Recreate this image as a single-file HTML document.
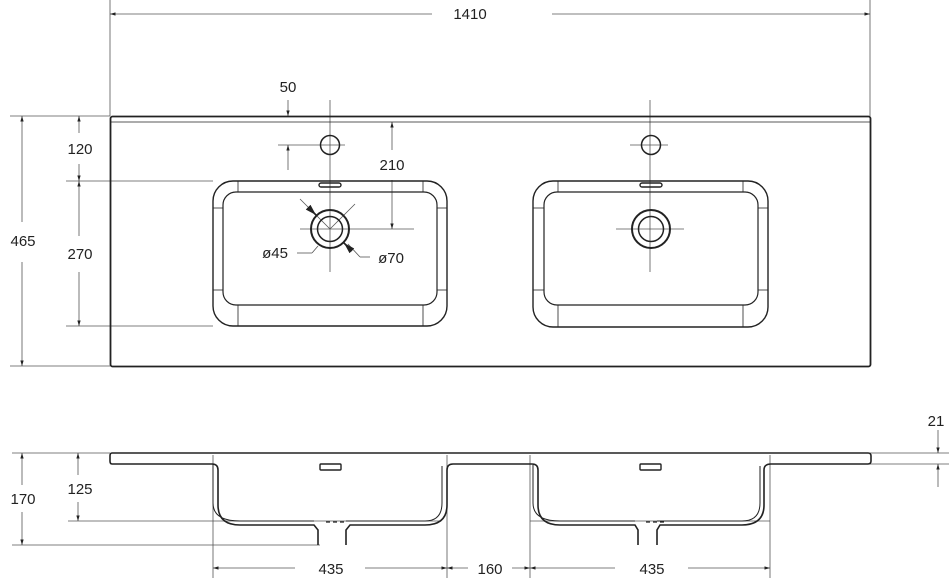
<!DOCTYPE html>
<html><head><meta charset="utf-8"><style>
html,body{margin:0;padding:0;background:#fff}
svg{display:block}
text{font-family:"Liberation Sans",sans-serif;font-size:15px;fill:#222;text-anchor:middle}
</style></head><body>
<svg width="949" height="579" viewBox="0 0 949 579" xmlns="http://www.w3.org/2000/svg">
<defs>
<marker id="a" viewBox="0 0 10 10" refX="10" refY="5" markerWidth="7" markerHeight="7" orient="auto-start-reverse"><path d="M0,2 L10,5 L0,8 z" fill="#222"/></marker>
</defs>
<g stroke="#555" stroke-width="0.8" fill="none">
<line x1="110" y1="0" x2="110" y2="116"/><line x1="870" y1="0" x2="870" y2="116"/>
<line x1="110" y1="14" x2="432" y2="14" marker-start="url(#a)"/><line x1="552" y1="14" x2="870" y2="14" marker-end="url(#a)"/>
<line x1="10" y1="116" x2="110" y2="116"/><line x1="10" y1="366" x2="110" y2="366"/>
<line x1="22" y1="116" x2="22" y2="222" marker-start="url(#a)"/><line x1="22" y1="262" x2="22" y2="366" marker-end="url(#a)"/>
<line x1="66" y1="181" x2="213" y2="181"/><line x1="66" y1="326" x2="213" y2="326"/>
<line x1="79" y1="116" x2="79" y2="133" marker-start="url(#a)"/><line x1="79" y1="164" x2="79" y2="181" marker-end="url(#a)"/>
<line x1="79" y1="181" x2="79" y2="236" marker-start="url(#a)"/><line x1="79" y1="272" x2="79" y2="326" marker-end="url(#a)"/>
<line x1="288" y1="100" x2="288" y2="116" marker-end="url(#a)"/><line x1="288" y1="170" x2="288" y2="145" marker-end="url(#a)"/>
<line x1="278" y1="145" x2="345" y2="145"/>
<line x1="330" y1="100" x2="330" y2="272"/><line x1="300" y1="229" x2="414" y2="229"/>
<line x1="392" y1="122" x2="392" y2="150" marker-start="url(#a)"/><line x1="392" y1="180" x2="392" y2="229" marker-end="url(#a)"/>
<line x1="650" y1="100" x2="650" y2="272"/><line x1="630" y1="145" x2="668" y2="145"/><line x1="616" y1="229" x2="684" y2="229"/>
<line x1="300" y1="199" x2="330" y2="229"/><line x1="330" y1="229" x2="355" y2="204"/>
<line x1="297" y1="253" x2="312" y2="253"/><line x1="312" y1="253" x2="318" y2="246"/>
<line x1="348" y1="244" x2="360" y2="257"/><line x1="360" y1="257" x2="370" y2="257"/>
</g>
<g stroke="#222" stroke-width="1.6" fill="none">
<line x1="310" y1="209" x2="316" y2="215" marker-end="url(#a)"/>
<line x1="352" y1="251" x2="344" y2="243" marker-end="url(#a)"/>
</g>
<g stroke="#222" fill="none">
<rect x="110.5" y="116.5" width="760" height="250" rx="2" stroke-width="1.8"/>
<line x1="111" y1="122" x2="870" y2="122" stroke-width="0.8"/>
<rect x="213" y="181" width="234" height="145" rx="20" stroke-width="1.4"/>
<rect x="223" y="192" width="214" height="113" rx="13" stroke-width="1.2"/>
<g stroke-width="0.8"><line x1="238" y1="181" x2="238" y2="192"/><line x1="423" y1="181" x2="423" y2="192"/><line x1="238" y1="305" x2="238" y2="326"/><line x1="423" y1="305" x2="423" y2="326"/><line x1="213" y1="208" x2="223" y2="208"/><line x1="437" y1="208" x2="447" y2="208"/><line x1="213" y1="290" x2="223" y2="290"/><line x1="437" y1="290" x2="447" y2="290"/></g>
<circle cx="330" cy="145" r="9.5" stroke-width="1.5"/>
<circle cx="330" cy="229" r="19" stroke-width="2"/><circle cx="330" cy="229" r="12.5" stroke-width="1.5"/>
<rect x="319" y="183" width="22" height="4" rx="2" stroke-width="1.4"/>
<rect x="533" y="181" width="235" height="146" rx="20" stroke-width="1.4"/>
<rect x="544" y="192" width="214" height="113" rx="13" stroke-width="1.2"/>
<g stroke-width="0.8"><line x1="558" y1="181" x2="558" y2="192"/><line x1="743" y1="181" x2="743" y2="192"/><line x1="558" y1="305" x2="558" y2="327"/><line x1="743" y1="305" x2="743" y2="327"/><line x1="533" y1="208" x2="544" y2="208"/><line x1="758" y1="208" x2="768" y2="208"/><line x1="533" y1="290" x2="544" y2="290"/><line x1="758" y1="290" x2="768" y2="290"/></g>
<circle cx="651" cy="145" r="9.5" stroke-width="1.5"/>
<circle cx="651" cy="229" r="19" stroke-width="2"/><circle cx="651" cy="229" r="12.5" stroke-width="1.5"/>
<rect x="640" y="183" width="22" height="4" rx="2" stroke-width="1.4"/>
</g>
<text x="470" y="19">1410</text>
<text x="288" y="92">50</text>
<text x="80" y="154">120</text>
<text x="392" y="170">210</text>
<text x="23" y="246">465</text>
<text x="80" y="259">270</text>
<text x="275" y="258">ø45</text>
<text x="391" y="263">ø70</text>
<g stroke="#555" stroke-width="0.8" fill="none">
<line x1="12" y1="453" x2="110" y2="453"/><line x1="12" y1="545" x2="320" y2="545"/>
<line x1="68" y1="521" x2="440" y2="521"/><line x1="530" y1="521" x2="770" y2="521"/>
<line x1="22" y1="453" x2="22" y2="485" marker-start="url(#a)"/><line x1="22" y1="512" x2="22" y2="545" marker-end="url(#a)"/>
<line x1="78" y1="453" x2="78" y2="475" marker-start="url(#a)"/><line x1="78" y1="502" x2="78" y2="521" marker-end="url(#a)"/>
<line x1="870" y1="453" x2="949" y2="453"/><line x1="870" y1="464" x2="949" y2="464"/>
<line x1="938" y1="430" x2="938" y2="453" marker-end="url(#a)"/><line x1="938" y1="487" x2="938" y2="464" marker-end="url(#a)"/>
<line x1="213" y1="455" x2="213" y2="578"/><line x1="447" y1="455" x2="447" y2="578"/><line x1="530" y1="455" x2="530" y2="578"/><line x1="770" y1="455" x2="770" y2="578"/>
<line x1="213" y1="568" x2="295" y2="568" marker-start="url(#a)"/><line x1="365" y1="568" x2="447" y2="568" marker-end="url(#a)"/>
<line x1="447" y1="568" x2="468" y2="568" marker-start="url(#a)"/><line x1="512" y1="568" x2="530" y2="568" marker-end="url(#a)"/>
<line x1="530" y1="568" x2="615" y2="568" marker-start="url(#a)"/><line x1="688" y1="568" x2="770" y2="568" marker-end="url(#a)"/>
<line x1="326" y1="522" x2="345" y2="522" stroke-dasharray="4,3" stroke="#222" stroke-width="1.2"/>
<line x1="646" y1="522" x2="665" y2="522" stroke-dasharray="4,3" stroke="#222" stroke-width="1.2"/>
</g>
<g stroke="#222" fill="none" stroke-width="1.6">
<path d="M318,545 V530 L314,525 H240 Q218,525 218,505 V470 Q218,464 212,464 H112 Q110,464 110,461 V456 Q110,453 112,453 H868 Q871,453 871,456 V461 Q871,464 868,464 H771 Q764,464 764,470 V505 Q764,525 742,525 H660 L657,530 V545"/>
<path d="M346,545 V530 L350,525 H425 Q447,525 447,505 V470 Q447,464 453,464 H532 Q538,464 538,470 V505 Q538,525 560,525 H635 L638,530 V545"/>
<path d="M213,464 V503 Q213,521 240,521 H314 M346,521 H425 Q442,521 442,503 V466 M533,465 V503 Q533,521 560,521 H635 M657,521 H742 Q760,521 760,503 V466" stroke-width="1"/>
<rect x="320" y="464" width="21" height="6" rx="1" stroke-width="1.4"/>
<rect x="640" y="464" width="21" height="6" rx="1" stroke-width="1.4"/>
</g>
<text x="23" y="504">170</text>
<text x="80" y="494">125</text>
<text x="936" y="426">21</text>
<text x="331" y="574">435</text>
<text x="490" y="574">160</text>
<text x="652" y="574">435</text>
</svg>
</body></html>
